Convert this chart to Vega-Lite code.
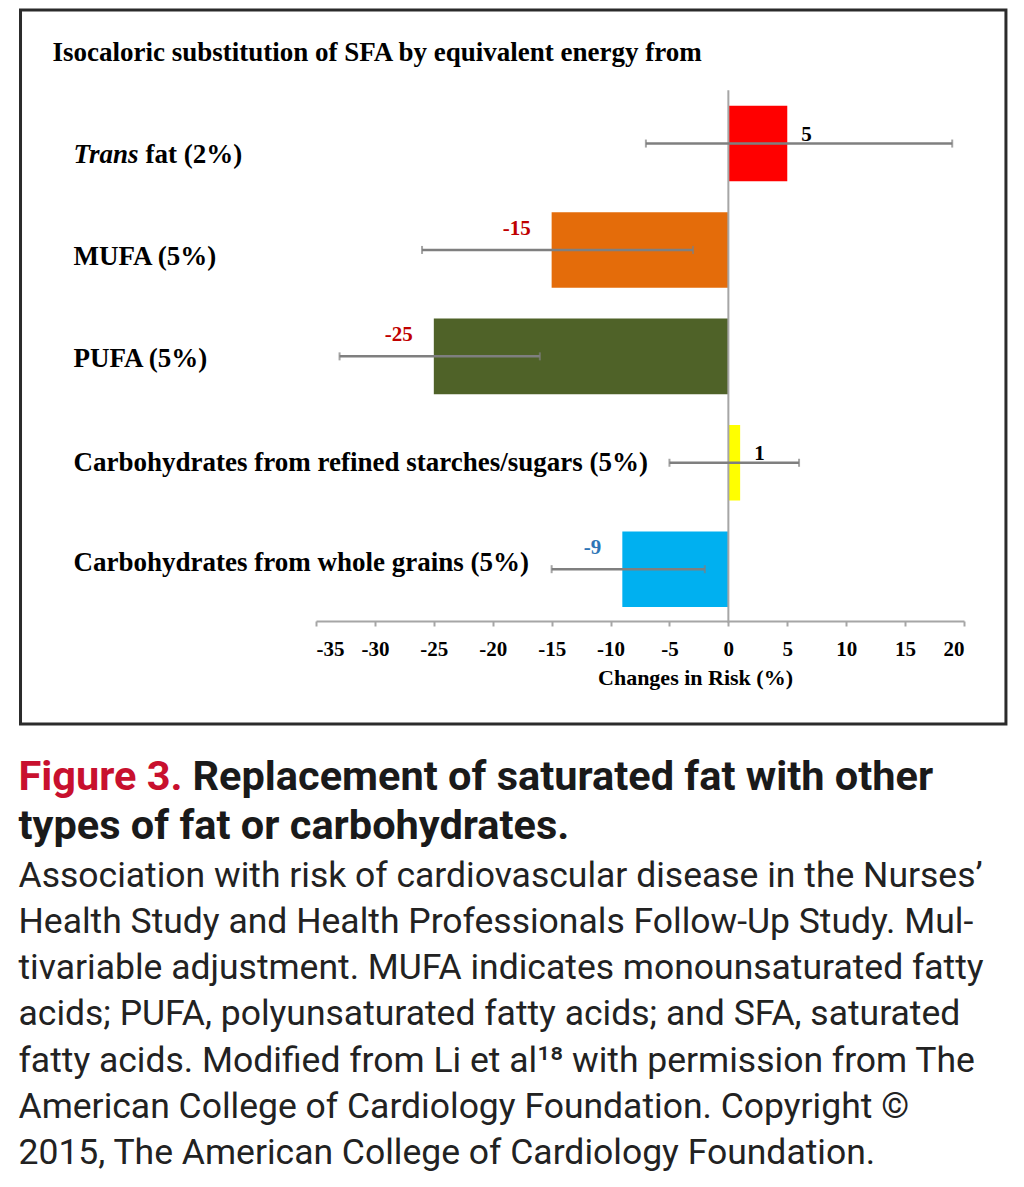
{
  "$schema": "https://vega.github.io/schema/vega-lite/v6.json",
  "width": 648,
  "height": 714,
  "autosize": {"type": "none"},
  "padding": {"left": 316, "top": 10, "right": 60, "bottom": 463},
  "background": "white",
  "config": {"view": {"stroke": null}},
  "data": {"values": [
    {"category": "Trans fat (2%)", "change": 5, "lo": -7, "hi": 19},
    {"category": "MUFA (5%)", "change": -15, "lo": -26, "hi": -3},
    {"category": "PUFA (5%)", "change": -25, "lo": -33, "hi": -16},
    {"category": "Carbohydrates from refined starches/sugars (5%)", "change": 1, "lo": -5, "hi": 6},
    {"category": "Carbohydrates from whole grains (5%)", "change": -9, "lo": -15, "hi": -2}
  ]},
  "resolve": {"scale": {"color": "independent"}, "axis": {"y": "independent"}},
  "layer": [
    {
      "mark": {"type": "bar"},
      "encoding": {
        "y": {"field": "category", "type": "nominal", "sort": null,
          "scale": {"domain": ["Trans fat (2%)", "MUFA (5%)", "PUFA (5%)", "Carbohydrates from refined starches/sugars (5%)", "Carbohydrates from whole grains (5%)"],
            "paddingInner": 0.29, "paddingOuter": 1.0256, "align": 0.45},
          "axis": {"orient": "left", "domain": false, "ticks": false, "grid": false,
            "labelAlign": "left", "labelBaseline": "middle", "labelLimit": 700,
            "labelPadding": {"condition": {"test": "datum.value === 'Trans fat (2%)'", "value": 171}, "value": 243},
            "labelOffset": {"condition": [
              {"test": "datum.value === 'Trans fat (2%)'", "value": 11},
              {"test": "datum.value === 'MUFA (5%)'", "value": 7},
              {"test": "datum.value === 'PUFA (5%)'", "value": 3},
              {"test": "datum.value === 'Carbohydrates from whole grains (5%)'", "value": -6}], "value": 0},
            "labelExpr": "datum.value === 'Trans fat (2%)' ? 'fat (2%)' : datum.value",
            "labelFont": "Liberation Serif", "labelFontWeight": "bold", "labelFontSize": 27, "labelColor": "black",
            "title": "Figure 3.", "titleAngle": 0, "titleX": -298, "titleY": 779, "titleAlign": "left", "titleBaseline": "alphabetic",
            "titleFont": "Roboto", "titleFontSize": 41.5, "titleFontWeight": "bold", "titleColor": "#C8102E"}},
        "x": {"field": "change", "type": "quantitative",
          "scale": {"domain": [-35, 20], "nice": false, "zero": false},
          "axis": {"values": [-35, -30, -25, -20, -15, -10, -5, 0, 5, 10, 15, 20], "offset": -103, "grid": false,
            "labelExpr": "'' + datum.value",
            "domainColor": "#a6a6a6", "domainWidth": 2, "tickColor": "#a6a6a6", "tickWidth": 2, "tickSize": 5,
            "labelFont": "Liberation Serif", "labelFontWeight": "bold", "labelFontSize": 21, "labelColor": "black", "labelPadding": 12,
            "title": "Changes in Risk (%)", "titleFont": "Liberation Serif", "titleFontWeight": "bold", "titleFontSize": 22, "titleColor": "black",
            "titleX": 379, "titleY": 63, "titleAlign": "center", "titleBaseline": "alphabetic"}},
        "color": {"field": "category", "type": "nominal", "legend": null,
          "scale": {"domain": ["Trans fat (2%)", "MUFA (5%)", "PUFA (5%)", "Carbohydrates from refined starches/sugars (5%)", "Carbohydrates from whole grains (5%)"],
            "range": ["#FF0000", "#E46C0A", "#4F6228", "#FFFF00", "#00B0F0"]}}
      }
    },
    {
      "data": {"values": [{}]},
      "mark": {"type": "rule", "color": "#a6a6a6", "strokeWidth": 2, "yOffset": -15.5, "y2Offset": 53.5},
      "encoding": {
        "x": {"datum": 0, "type": "quantitative", "scale": {"domain": [-35, 20], "nice": false, "zero": false}},
        "y": {"datum": "Trans fat (2%)", "type": "nominal", "bandPosition": 0, "axis": null},
        "y2": {"datum": "Carbohydrates from whole grains (5%)"}
      }
    },
    {
      "mark": {"type": "rule", "color": "#7f7f7f", "strokeWidth": 2.5},
      "encoding": {
        "y": {"field": "category", "type": "nominal", "sort": null,
          "axis": {"orient": "left", "domain": false, "ticks": false, "grid": false,
            "labelAlign": "left", "labelBaseline": "middle", "labelPadding": 243, "labelLimit": 700, "labelOffset": 11,
            "labelExpr": "datum.value === 'Trans fat (2%)' ? 'Trans' : ''",
            "labelFont": "Liberation Serif", "labelFontWeight": "bold", "labelFontStyle": "italic", "labelFontSize": 27, "labelColor": "black",
            "title": "Isocaloric substitution of SFA by equivalent energy from", "titleAngle": 0, "titleX": -264, "titleY": 50, "titleAlign": "left", "titleBaseline": "alphabetic",
            "titleFont": "Liberation Serif", "titleFontSize": 27, "titleFontWeight": "bold", "titleColor": "black"}},
        "x": {"field": "lo", "type": "quantitative", "scale": {"domain": [-35, 20], "nice": false, "zero": false}},
        "x2": {"field": "hi"}
      }
    },
    {
      "mark": {"type": "tick", "color": "#7f7f7f", "thickness": 2, "size": 8},
      "encoding": {
        "y": {"field": "category", "type": "nominal", "sort": null,
          "axis": {"orient": "left", "domain": false, "ticks": false, "grid": false, "labels": false,
            "title": "Replacement of saturated fat with other", "titleAngle": 0, "titleX": -124, "titleY": 779, "titleAlign": "left", "titleBaseline": "alphabetic",
            "titleFont": "Roboto", "titleFontSize": 41.5, "titleFontWeight": "bold", "titleColor": "#1a1a1a"}},
        "x": {"field": "lo", "type": "quantitative", "scale": {"domain": [-35, 20], "nice": false, "zero": false}}
      }
    },
    {
      "mark": {"type": "tick", "color": "#7f7f7f", "thickness": 2, "size": 8},
      "encoding": {
        "y": {"field": "category", "type": "nominal", "sort": null,
          "axis": {"orient": "left", "domain": false, "ticks": false, "grid": false, "labels": false,
            "title": "types of fat or carbohydrates.", "titleAngle": 0, "titleX": -298, "titleY": 828, "titleAlign": "left", "titleBaseline": "alphabetic",
            "titleFont": "Roboto", "titleFontSize": 41.5, "titleFontWeight": "bold", "titleColor": "#1a1a1a"}},
        "x": {"field": "hi", "type": "quantitative", "scale": {"domain": [-35, 20], "nice": false, "zero": false}}
      }
    },
    {
      "transform": [{"filter": "datum.change > 0"}],
      "mark": {"type": "text", "align": "left", "baseline": "alphabetic", "dx": 14, "dy": -3,
        "font": "Liberation Serif", "fontWeight": "bold", "fontSize": 21},
      "encoding": {
        "y": {"field": "category", "type": "nominal", "sort": null,
          "axis": {"orient": "left", "domain": false, "ticks": false, "grid": false, "labels": false,
            "title": ["Association with risk of cardiovascular disease in the Nurses’", "Health Study and Health Professionals Follow-Up Study. Mul-", "tivariable adjustment. MUFA indicates monounsaturated fatty", "acids; PUFA, polyunsaturated fatty acids; and SFA, saturated", "fatty acids. Modified from Li et al¹⁸ with permission from The", "American College of Cardiology Foundation. Copyright ©", "2015, The American College of Cardiology Foundation."],
            "titleAngle": 0, "titleX": -298, "titleY": 876, "titleAlign": "left", "titleBaseline": "alphabetic", "titleLineHeight": 46.3,
            "titleFont": "Roboto", "titleFontSize": 35.5, "titleFontWeight": "normal", "titleColor": "#222222"}},
        "x": {"field": "change", "type": "quantitative", "scale": {"domain": [-35, 20], "nice": false, "zero": false}},
        "text": {"field": "change", "type": "nominal"},
        "color": {"field": "category", "type": "nominal", "legend": null,
          "scale": {"domain": ["Trans fat (2%)", "MUFA (5%)", "PUFA (5%)", "Carbohydrates from refined starches/sugars (5%)", "Carbohydrates from whole grains (5%)"],
            "range": ["#000000", "#C00000", "#C00000", "#000000", "#2E75B6"]}}
      }
    },
    {
      "transform": [{"filter": "datum.change < 0"}],
      "mark": {"type": "text", "align": "right", "baseline": "alphabetic", "dx": -21, "dy": -15,
        "font": "Liberation Serif", "fontWeight": "bold", "fontSize": 21},
      "encoding": {
        "y": {"field": "category", "type": "nominal", "sort": null, "axis": null},
        "x": {"field": "change", "type": "quantitative", "scale": {"domain": [-35, 20], "nice": false, "zero": false}},
        "text": {"field": "change", "type": "nominal"},
        "color": {"field": "category", "type": "nominal", "legend": null,
          "scale": {"domain": ["Trans fat (2%)", "MUFA (5%)", "PUFA (5%)", "Carbohydrates from refined starches/sugars (5%)", "Carbohydrates from whole grains (5%)"],
            "range": ["#000000", "#C00000", "#C00000", "#000000", "#2E75B6"]}}
      }
    },
    {
      "data": {"values": [{}]},
      "mark": {"type": "rect", "filled": false, "stroke": "#2b2b2b", "strokeWidth": 3, "clip": false},
      "encoding": {
        "x": {"datum": -60.08, "type": "quantitative", "scale": {"domain": [-35, 20], "nice": false, "zero": false}},
        "x2": {"datum": 23.56}
      }
    }
  ]
}
